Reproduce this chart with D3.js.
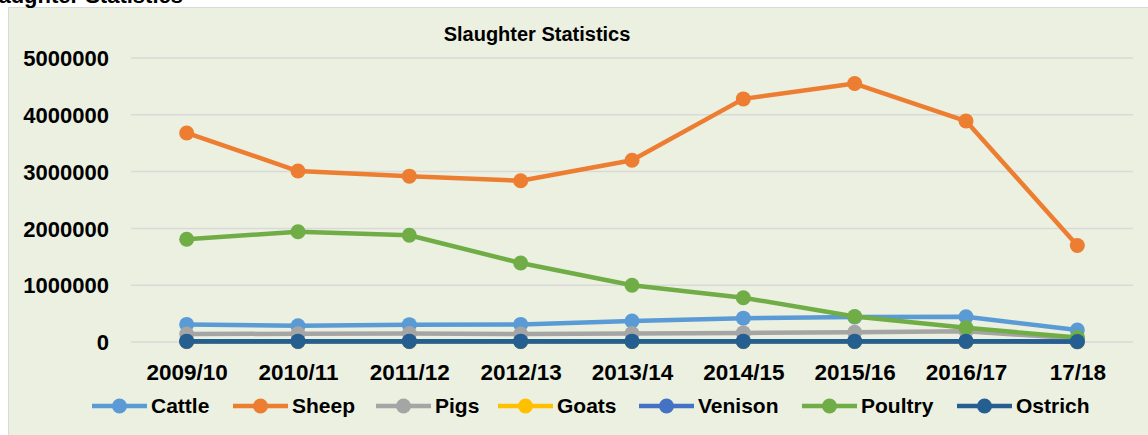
<!DOCTYPE html>
<html lang="en">
<head>
  <meta charset="UTF-8">
  <title>Slaughter Statistics</title>
  <script src="https://d3js.org/d3.v7.min.js"></script>
  <style>
    body { margin: 0; background: #fff; }
    svg text { font-family: "Liberation Sans", Arial, sans-serif; font-weight: bold; fill: #000; }
    .grid line { stroke: #d9d9d9; stroke-width: 1.5px; }
  </style>
</head>
<body>
  <svg width="1148" height="435"></svg>
  <script>
    const years = ["2009/10", "2010/11", "2011/12", "2012/13", "2013/14", "2014/15", "2015/16", "2016/17", "17/18"];
    const yTicks = [0, 1000000, 2000000, 3000000, 4000000, 5000000];

    const cattle  = [310000, 285000, 305000, 310000, 370000, 420000, 440000, 445000, 210000];
    const sheep   = [3680000, 3010000, 2920000, 2840000, 3200000, 4280000, 4550000, 3890000, 1700000];
    const pigs    = [140000, 145000, 150000, 140000, 150000, 160000, 170000, 190000, 60000];
    const goats   = [5000, 5000, 5000, 5000, 5000, 5000, 5000, 5000, 3000];
    const venison = [10000, 10000, 10000, 10000, 10000, 10000, 10000, 10000, 5000];
    const poultry = [1810000, 1940000, 1880000, 1390000, 1000000, 780000, 450000, 250000, 80000];
    const ostrich = [15000, 15000, 15000, 15000, 15000, 15000, 15000, 15000, 10000];

    const series = [
      { name: "Cattle",  values: cattle,  color: "#5B9BD5" },
      { name: "Sheep",   values: sheep,   color: "#ED7D31" },
      { name: "Pigs",    values: pigs,    color: "#A5A5A5" },
      { name: "Goats",   values: goats,   color: "#FFC000" },
      { name: "Venison", values: venison, color: "#4472C4" },
      { name: "Poultry", values: poultry, color: "#70AD47" },
      { name: "Ostrich", values: ostrich, color: "#255E91" }
    ];

    const svg = d3.select("svg");

    // chart frame, partly off-screen
    svg.append("rect")
      .attr("x", 8.5).attr("y", 7.5)
      .attr("width", 1150).attr("height", 440)
      .attr("fill", "#ebf0e0")
      .attr("stroke", "#d9d9d9");

    svg.append("text")
      .attr("x", 183).attr("y", 3)
      .attr("text-anchor", "end")
      .style("font-size", "22px")
      .text("Slaughter Statistics");

    svg.append("text")
      .attr("x", 537).attr("y", 41)
      .attr("text-anchor", "middle")
      .style("font-size", "20px")
      .text("Slaughter Statistics");

    const x = d3.scalePoint().domain(years).range([131, 1133]).padding(0.5);
    const y = d3.scaleLinear().domain([0, 5000000]).range([342, 58]);

    svg.append("g").attr("class", "grid")
      .selectAll("line")
      .data(yTicks)
      .join("line")
      .attr("x1", 131).attr("x2", 1133)
      .attr("y1", d => y(d)).attr("y2", d => y(d));

    const yAxis = svg.append("g")
      .attr("transform", "translate(109,0)")
      .call(d3.axisLeft(y).tickValues(yTicks).tickSize(0).tickPadding(0).tickFormat(d3.format("d")));
    yAxis.select(".domain").remove();
    yAxis.selectAll("text").style("font-size", "22px").attr("dy", "0.35em");

    const xAxis = svg.append("g")
      .attr("transform", "translate(0,342)")
      .call(d3.axisBottom(x).tickSize(0).tickPadding(22));
    xAxis.select(".domain").remove();
    xAxis.selectAll("text").style("font-size", "22.5px");

    const line = d3.line().x((d, i) => x(years[i])).y(d => y(d));

    const sg = svg.append("g").selectAll("g").data(series).join("g");
    sg.append("path")
      .attr("d", d => line(d.values))
      .attr("fill", "none")
      .attr("stroke", d => d.color)
      .attr("stroke-width", 4.5)
      .attr("stroke-linejoin", "round");
    sg.selectAll("circle")
      .data(d => d.values.map((v, i) => ({ v, i, color: d.color })))
      .join("circle")
      .attr("cx", d => x(years[d.i]))
      .attr("cy", d => y(d.v))
      .attr("r", 7.5)
      .attr("fill", d => d.color);

    // legend
    const legendX = [92, 233, 376, 498, 639, 802, 957];
    const lg = svg.append("g").selectAll("g").data(series).join("g")
      .attr("transform", (d, i) => `translate(${legendX[i]},406)`);
    lg.append("line")
      .attr("x1", 0).attr("x2", 55)
      .attr("stroke", d => d.color)
      .attr("stroke-width", 4.5);
    lg.append("circle")
      .attr("cx", 27.5).attr("r", 7.5)
      .attr("fill", d => d.color);
    lg.append("text")
      .attr("x", 59).attr("dy", "0.35em")
      .style("font-size", "21px")
      .text(d => d.name);
  </script>
</body>
</html>
